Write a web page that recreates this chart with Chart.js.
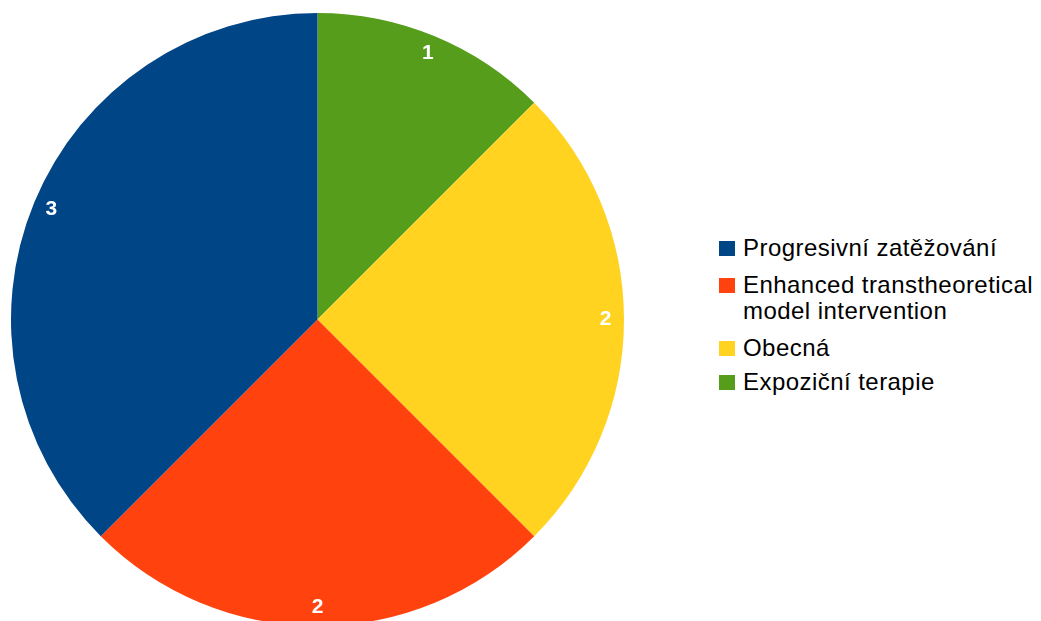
<!DOCTYPE html>
<html>
<head>
<meta charset="utf-8">
<script src="https://cdn.jsdelivr.net/npm/chart.js@4"></script>
<style>
    html, body { margin: 0; padding: 0; background: #fff; }
    body { width: 1041px; height: 621px; overflow: hidden; position: relative; }
    #wrap { position: absolute; left: 0; top: 0; width: 640px; height: 640px; }
    #legend { position: absolute; left: 719px; top: 235px; font-family: "Liberation Sans", Arial, sans-serif; font-size: 24px; letter-spacing: 0.45px; color: #000; white-space: nowrap; }
    .item { position: relative; padding-left: 24px; line-height: 26px; margin-bottom: 11px; }
    .item:nth-child(3) { margin-bottom: 8px; }
    .box { position: absolute; left: 0; top: 6px; width: 16px; height: 15px; }
</style>
</head>
<body>
<div id="wrap"><canvas id="pieChart"></canvas></div>
<div id="legend"></div>
<script>
// legend order (as shown on the right)
var categories = ['Progresivní zatěžování', 'Enhanced transtheoretical model intervention', 'Obecná', 'Expoziční terapie'];
var legendLines = [['Progresivní zatěžování'], ['Enhanced transtheoretical', 'model intervention'], ['Obecná'], ['Expoziční terapie']];
var counts = [3, 2, 2, 1];
var colors = ['#004586', '#ff420e', '#ffd320', '#579d1c'];

document.addEventListener('DOMContentLoaded', function () {
    var ctx = document.getElementById('pieChart').getContext('2d');

    // slices go counter-clockwise from the top, so feed them reversed
    var drawLabels = categories.slice().reverse();
    var drawCounts = counts.slice().reverse();
    var drawColors = colors.slice().reverse();

    var valueLabels = {
        id: 'valueLabels',
        afterDatasetsDraw: function (chart) {
            var c = chart.ctx;
            var meta = chart.getDatasetMeta(0);
            c.save();
            c.fillStyle = '#ffffff';
            c.font = 'bold 21px "Liberation Sans", Arial, sans-serif';
            c.textAlign = 'center';
            c.textBaseline = 'middle';
            meta.data.forEach(function (arc, i) {
                var p = arc.getProps(['x', 'y', 'startAngle', 'endAngle', 'outerRadius'], true);
                var mid = (p.startAngle + p.endAngle) / 2;
                var r = p.outerRadius * 0.94;
                c.fillText(String(drawCounts[i]), p.x + Math.cos(mid) * r, p.y + Math.sin(mid) * r);
            });
            c.restore();
        }
    };

    new Chart(ctx, {
        type: 'pie',
        data: {
            labels: drawLabels,
            datasets: [{
                data: drawCounts,
                backgroundColor: drawColors,
                borderWidth: 0
            }]
        },
        options: {
            responsive: true,
            maintainAspectRatio: false,
            animation: false,
            layout: { padding: { left: 11, right: 16, top: 13, bottom: 14 } },
            plugins: {
                legend: { display: false },
                tooltip: { enabled: false }
            }
        },
        plugins: [valueLabels]
    });

    var legend = document.getElementById('legend');
    legendLines.forEach(function (lines, i) {
        var item = document.createElement('div');
        item.className = 'item';
        var box = document.createElement('span');
        box.className = 'box';
        box.style.background = colors[i];
        item.appendChild(box);
        item.appendChild(document.createTextNode(lines[0]));
        for (var k = 1; k < lines.length; k++) {
            item.appendChild(document.createElement('br'));
            item.appendChild(document.createTextNode(lines[k]));
        }
        legend.appendChild(item);
    });
});
</script>
</body>
</html>
